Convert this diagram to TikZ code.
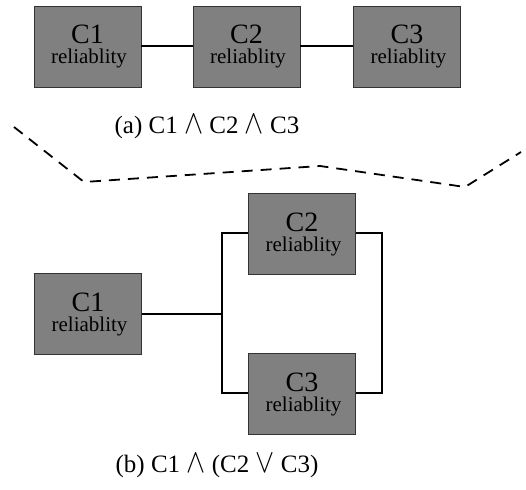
\documentclass[tikz,border=0pt]{standalone}
\usepackage{fontspec}
\setmainfont{Liberation Serif}
\begin{document}
\begin{tikzpicture}[x=1pt,y=-1pt,
  blk/.style={draw=black!80,line width=0.7pt,fill=black!50,minimum width=107pt,minimum height=81pt,inner sep=0pt,align=center,font=\fontsize{21}{20}\selectfont},
  wire/.style={line width=2pt},
  captxt/.style={font=\fontsize{25}{26}\selectfont}]
\useasboundingbox (0,0) rectangle (526,489);
\newcommand{\lbl}[1]{{\fontsize{28}{20}\selectfont #1}\\\hspace*{3pt}reliablity}
\newcommand{\andop}{\scalebox{1.15}[1.35]{$\wedge$}}
\newcommand{\orop}{\scalebox{1.15}[1.35]{$\vee$}}
% top
\node[blk] (a1) at (87.5,46.5) {\lbl{C1}};
\node[blk] (a2) at (246.5,46.5) {\lbl{C2}};
\node[blk] (a3) at (407,46.5) {\lbl{C3}};
\draw[wire] (a1) -- (a2);
\draw[wire] (a2) -- (a3);
\node[captxt] (capa) at (207,127) {(a) C1 \andop{} C2 \andop{} C3};
% dashed separator
\coordinate (d1) at (14,127);
\coordinate (d2) at (84,182);
\coordinate (d3) at (320,166);
\coordinate (d4) at (465,187);
\coordinate (d5) at (521,152);
\draw[line width=1.8pt,dash pattern=on 11pt off 8pt] (d1) -- (d2) -- (d3) -- (d4) -- (d5);
% bottom
\node[blk] (b1) at (88,314) {\lbl{C1}};
\node[blk] (b2) at (302,234) {\lbl{C2}};
\node[blk] (b3) at (302,394) {\lbl{C3}};
\coordinate (j1) at (222,314);
\coordinate (j2) at (382,314);
\draw[wire] (b1) -- (j1);
\draw[wire] (b2.west |- 0,233) -| (j1) |- (b3.west |- 0,393);
\draw[wire] (b2.east |- 0,233) -| (j2) |- (b3.east |- 0,393);
\node[captxt] (capb) at (217,466) {(b) C1 \andop{} (C2 \orop{} C3)};
\end{tikzpicture}
\end{document}
